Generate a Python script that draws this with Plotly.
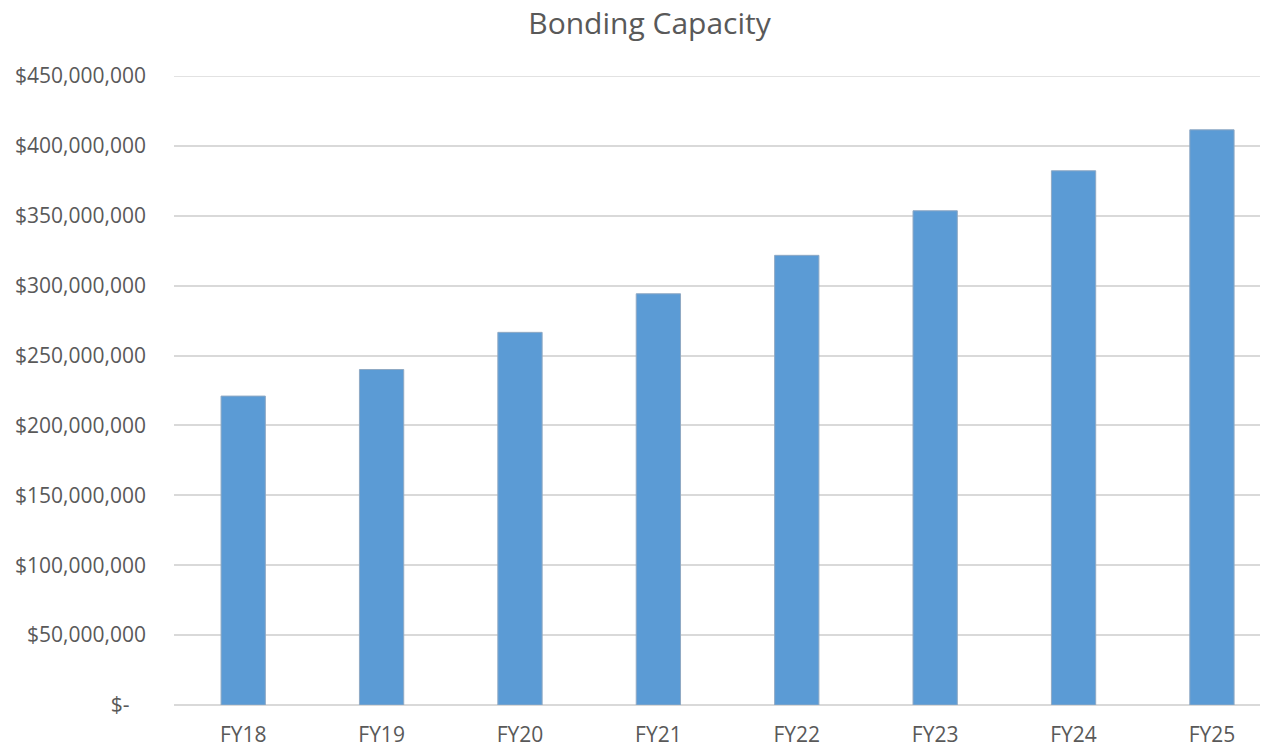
import plotly.graph_objects as go

categories = ["FY18", "FY19", "FY20", "FY21", "FY22", "FY23", "FY24", "FY25"]
values = [221e6, 240e6, 266.6e6, 294.2e6, 321.7e6, 353.6e6, 382.2e6, 411.5e6]
tick_vals = [0, 50e6, 100e6, 150e6, 200e6, 250e6, 300e6, 350e6, 400e6, 450e6]
tick_text = ["$-\u00a0\u00a0\u00a0", "$50,000,000", "$100,000,000", "$150,000,000", "$200,000,000",
             "$250,000,000", "$300,000,000", "$350,000,000", "$400,000,000", "$450,000,000"]

fig = go.Figure(go.Bar(
    x=categories, y=values,
    marker=dict(color="#5B9BD5", line=dict(color="#8FA9C4", width=1)),
))

W, H = 1260, 742  # page body has an 8px margin
fig.update_layout(
    width=W, height=H,
    margin=dict(l=166, r=0, t=68, b=45),
    paper_bgcolor="white", plot_bgcolor="white",
    font=dict(family="Open Sans, sans-serif", color="#595959"),
    title=dict(text="Bonding Capacity", x=641.5 / W, xref="container", xanchor="center",
               y=1 - 15.5 / H, yref="container", yanchor="middle",
               font=dict(size=30, color="#595959")),
    bargap=0.68,
    showlegend=False,
)
fig.add_shape(type="line", xref="paper", yref="y", x0=0, x1=1,
              y0=tick_vals[-1], y1=tick_vals[-1], line=dict(color="#D9D9D9", width=1.5), layer="below")
fig.update_xaxes(range=[-0.5, 7.405], showgrid=False, showline=False, ticks="",
                 tickfont=dict(size=21), ticklabelstandoff=15)
fig.update_yaxes(range=[0, 450e6], tickvals=tick_vals, ticktext=tick_text,
                 showgrid=True, gridcolor="#D9D9D9", gridwidth=1.5,
                 zeroline=True, zerolinecolor="#D9D9D9", zerolinewidth=1.5,
                 showline=False, ticks="", tickfont=dict(size=21), ticklabelstandoff=27)

fig.write_html("out.html")
